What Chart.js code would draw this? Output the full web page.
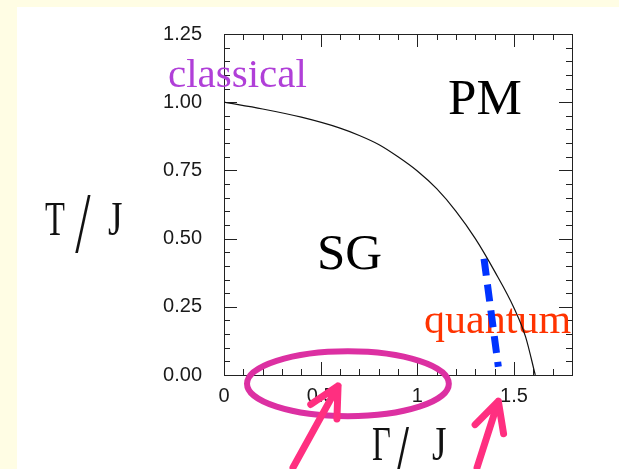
<!DOCTYPE html>
<html>
<head>
<meta charset="utf-8">
<title>Transverse-field spin glass phase diagram</title>
<script src="https://cdn.jsdelivr.net/npm/chart.js@4"></script>
<style>
  html, body { margin: 0; padding: 0; background: #fff; }
  body { width: 619px; height: 469px; position: relative; overflow: hidden; }
  #myChart { position: absolute; left: 0; top: 0; }
</style>
</head>
<body>
<canvas id="myChart" width="619" height="469"></canvas>
<script>
// SG / PM phase boundary, T_c as a function of the transverse field
const gammaJ = [0, 0.2, 0.4, 0.6, 0.7, 0.8, 0.9, 1.0, 1.1, 1.2, 1.3, 1.4, 1.5, 1.56, 1.61];
const tempJ = [1.0, 0.975, 0.945, 0.905, 0.878, 0.845, 0.8, 0.748, 0.683, 0.6, 0.5, 0.38, 0.246, 0.14, 0.0];

// thick dashed guide in the quantum corner
const guideGamma = [1.345, 1.419];
const guideTemp = [0.426, 0.03];

const xTicks = [0, 0.5, 1, 1.5];
const yTicks = [0, 0.25, 0.5, 0.75, 1.0, 1.25];

const serif = "'Liberation Serif', 'Times New Roman', serif";

// free text, placed in data units
const notes = [
  { text: "classical", x: -0.29, y: 1.055, size: 41, color: "#b03fd8" },
  { text: "PM", x: 1.159, y: 0.955, size: 51, color: "#000" },
  { text: "SG", x: 0.481, y: 0.389, size: 51, color: "#000" },
  { text: "quantum", x: 1.035, y: 0.155, size: 42, color: "#ff3300" },
];

// axis names, stretched vertically like the original figure lettering
const axisNames = [
  { text: "T", x: -0.926, y: 0.515, size: 31, sx: 1.05, sy: 1.55 },
  { text: "/", x: -0.77, y: 0.45, size: 50, sx: 1.1, sy: 1.75 },
  { text: "J", x: -0.6, y: 0.515, size: 31, sx: 1.2, sy: 1.55 },
  { text: "Γ", x: 0.766, y: -0.313, size: 31, sx: 1.05, sy: 1.55 },
  { text: "/", x: 0.878, y: -0.4, size: 50, sx: 1.1, sy: 1.75 },
  { text: "J", x: 1.076, y: -0.313, size: 31, sx: 1.2, sy: 1.55 },
];

const ring = { x: 0.641, y: -0.032, rx: 0.522, ry: 0.119 };
const arrows = [
  { from: [0.357, -0.339], to: [0.59, -0.04] },
  { from: [1.309, -0.339], to: [1.419, -0.096] },
];

const framePlugin = {
  id: "frame",
  beforeDraw(chart) {
    //Pale slide border along the top and left, white panel everywhere else
    const { ctx } = chart;
    ctx.save();
    ctx.fillStyle = "#fffde4";
    ctx.fillRect(0, 0, 17, 2000);
    ctx.fillRect(0, 0, 2000, 7);
    ctx.fillStyle = "#fff";
    ctx.fillRect(17, 7, 2000, 2000);
    ctx.restore();
  },
  beforeDatasetsDraw(chart) {
    const { ctx, chartArea: a, scales: { x, y } } = chart;
    ctx.save();
    ctx.strokeStyle = "#222";
    ctx.lineWidth = 1;
    ctx.strokeRect(a.left + 0.5, a.top + 0.5, a.right - a.left, a.bottom - a.top);

    //Inward ticks on all four sides
    ctx.beginPath();
    for (let i = 1; i < 18; i++) {
      const px = Math.round(x.getPixelForValue(i / 10)) + 0.5;
      const len = i % 5 === 0 ? 13 : 6;
      ctx.moveTo(px, a.bottom);
      ctx.lineTo(px, a.bottom - len);
      ctx.moveTo(px, a.top);
      ctx.lineTo(px, a.top + len);
    }
    for (let j = 1; j < 25; j++) {
      const py = Math.round(y.getPixelForValue(j * 0.05)) + 0.5;
      const len = j % 5 === 0 ? 13 : 6;
      ctx.moveTo(a.left, py);
      ctx.lineTo(a.left + len, py);
      ctx.moveTo(a.right, py);
      ctx.lineTo(a.right - len, py);
    }
    ctx.stroke();

    ctx.textAlign = "left";
    ctx.textBaseline = "alphabetic";
    notes.forEach((n) => {
      ctx.font = n.size + "px " + serif;
      ctx.fillStyle = n.color;
      ctx.fillText(n.text, x.getPixelForValue(n.x), y.getPixelForValue(n.y));
    });
    ctx.fillStyle = "#111";
    axisNames.forEach((n) => {
      ctx.save();
      ctx.translate(x.getPixelForValue(n.x), y.getPixelForValue(n.y));
      ctx.scale(n.sx, n.sy);
      ctx.font = n.size + "px " + serif;
      ctx.fillText(n.text, 0, 0);
      ctx.restore();
    });
    ctx.restore();
  },
  afterDraw(chart) {
    const { ctx, scales: { x, y } } = chart;
    ctx.save();
    const cx = x.getPixelForValue(ring.x);
    const cy = y.getPixelForValue(ring.y);
    ctx.beginPath();
    ctx.ellipse(cx, cy,
      x.getPixelForValue(ring.rx) - x.getPixelForValue(0),
      y.getPixelForValue(0) - y.getPixelForValue(ring.ry), 0, 0, Math.PI * 2);
    ctx.strokeStyle = "#dc30a2";
    ctx.lineWidth = 6;
    ctx.stroke();

    ctx.strokeStyle = "#ff2f80";
    ctx.lineWidth = 7;
    ctx.lineCap = "round";
    ctx.lineJoin = "round";
    arrows.forEach((ar) => {
      const x0 = x.getPixelForValue(ar.from[0]);
      const y0 = y.getPixelForValue(ar.from[1]);
      const x1 = x.getPixelForValue(ar.to[0]);
      const y1 = y.getPixelForValue(ar.to[1]);
      const ang = Math.atan2(y1 - y0, x1 - x0) + Math.PI;
      ctx.beginPath();
      ctx.moveTo(x0, y0);
      ctx.lineTo(x1, y1);
      ctx.moveTo(x1 + 33 * Math.cos(ang - 0.47), y1 + 33 * Math.sin(ang - 0.47));
      ctx.lineTo(x1, y1);
      ctx.lineTo(x1 + 33 * Math.cos(ang + 0.47), y1 + 33 * Math.sin(ang + 0.47));
      ctx.stroke();
    });
    ctx.restore();
  },
};

const tickFont = { family: "'Liberation Sans', Arial, sans-serif", size: 20 };

new Chart(document.getElementById("myChart"), {
  type: "line",
  data: {
    datasets: [
      {
        data: gammaJ.map((g, i) => ({ x: g, y: tempJ[i] })),
        borderColor: "#111",
        borderWidth: 1.2,
        pointRadius: 0,
        cubicInterpolationMode: "monotone",
        fill: false,
      },
      {
        data: guideGamma.map((g, i) => ({ x: g, y: guideTemp[i] })),
        borderColor: "#0033ff",
        borderWidth: 7,
        borderDash: [17, 9],
        borderCapStyle: "butt",
        pointRadius: 0,
        fill: false,
      },
    ],
  },
  options: {
    responsive: false,
    animation: false,
    layout: { padding: { left: 0, top: 28, right: 47, bottom: 0 } },
    plugins: { legend: { display: false }, tooltip: { enabled: false } },
    scales: {
      x: {
        type: "linear",
        min: 0,
        max: 1.8,
        border: { display: false },
        grid: { display: false, drawTicks: false },
        afterBuildTicks: (s) => { s.ticks = xTicks.map((v) => ({ value: v })); },
        afterFit: (s) => { s.height = 94; },
        ticks: {
          padding: 9,
          color: "#1a1a1a",
          font: tickFont,
          maxRotation: 0,
          autoSkip: false,
          callback: (v) => String(v),
        },
      },
      y: {
        type: "linear",
        min: 0,
        max: 1.25,
        border: { display: false },
        grid: { display: false, drawTicks: false },
        afterBuildTicks: (s) => { s.ticks = yTicks.map((v) => ({ value: v })); },
        afterFit: (s) => { s.width = 224; },
        ticks: {
          padding: 22,
          color: "#1a1a1a",
          font: tickFont,
          callback: (v) => v.toFixed(2),
        },
      },
    },
  },
  plugins: [framePlugin],
});
</script>
</body>
</html>
